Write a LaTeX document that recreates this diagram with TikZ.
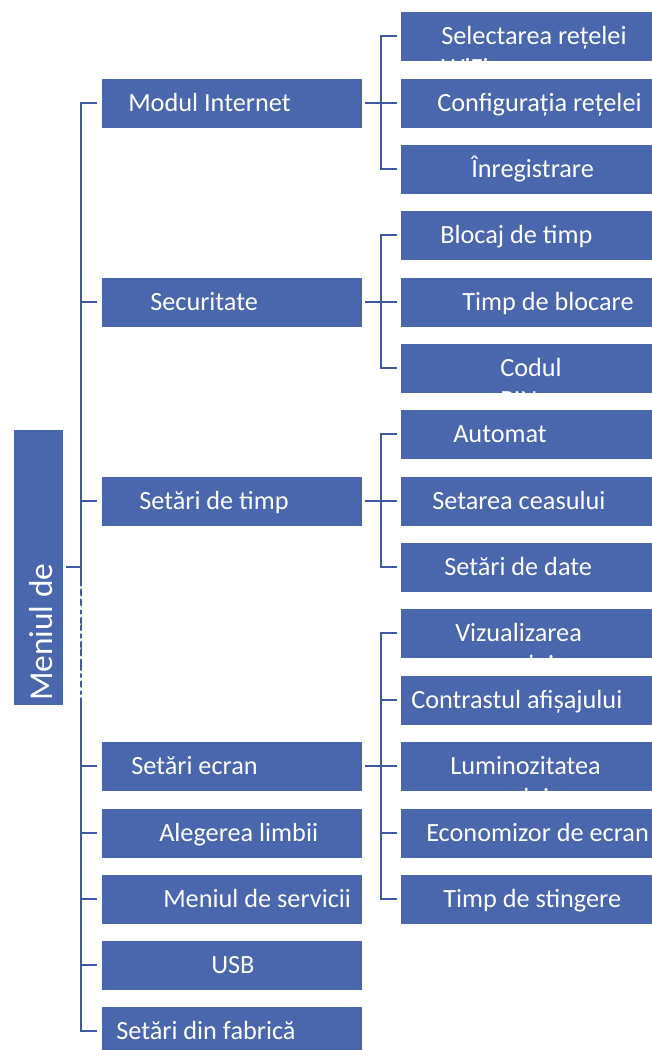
\documentclass[tikz,border=0pt]{standalone}
\usepackage{fontspec}
\setmainfont{Carlito}
\definecolor{boxblue}{RGB}{74,102,172}
\definecolor{lineblue}{RGB}{64,90,160}

\begin{document}
\begin{tikzpicture}[x=0.75pt, y=-0.75pt,
  menubox/.style={rectangle, fill=boxblue, draw=white, line width=0.6pt, inner sep=0pt,
    minimum width=195.75pt, minimum height=37.5pt},
  menutext/.style={text=white, inner sep=0pt, anchor=base west,
    font=\fontsize{19.7}{24}\selectfont},
  link/.style={draw=lineblue, line width=1.9pt}]
\clip (0,0) rectangle (652,1050);

% radacina
\node[menubox, minimum width=37.5pt, minimum height=207pt] (root) at (38,567) {};

% primul nivel
\node[menubox] (mi) at (231.5,103) {};
\node[menubox] (sec) at (231.5,302) {};
\node[menubox] (timp) at (231.5,501) {};
\node[menubox] (ecran) at (231.5,766) {};
\node[menubox] (limba) at (231.5,833) {};
\node[menubox] (serv) at (231.5,899) {};
\node[menubox] (usb) at (231.5,965) {};
\node[menubox] (fabr) at (231.5,1031) {};

% al doilea nivel
\node[menubox] (wifi) at (530.5,36) {};
\node[menubox] (conf) at (530.5,103) {};
\node[menubox] (inreg) at (530.5,169) {};
\node[menubox] (blocaj) at (530.5,235) {};
\node[menubox] (tblocare) at (530.5,302) {};
\node[menubox] (pin) at (530.5,368) {};
\node[menubox] (auto) at (530.5,434) {};
\node[menubox] (ceas) at (530.5,501) {};
\node[menubox] (date) at (530.5,567) {};
\node[menubox] (vizual) at (530.5,633) {};
\node[menubox] (contrast) at (530.5,700) {};
\node[menubox] (lumin) at (530.5,766) {};
\node[menubox] (econ) at (530.5,833) {};
\node[menubox] (sting) at (530.5,899) {};

% trunchiul
\coordinate (trunk) at (81,567);
\draw[link, shorten <=2.25pt] (root.east) -- (trunk);
\draw[link, shorten >=3pt] (trunk) |- (mi.west);
\draw[link, shorten >=3pt] (trunk) |- (sec.west);
\draw[link, shorten >=3pt] (trunk) |- (timp.west);
\draw[link, shorten >=3pt] (trunk) |- (ecran.west);
\draw[link, shorten >=3pt] (trunk) |- (limba.west);
\draw[link, shorten >=3pt] (trunk) |- (serv.west);
\draw[link, shorten >=3pt] (trunk) |- (usb.west);
\draw[link, shorten >=3pt] (trunk) |- (fabr.west);

% ramuri
\coordinate (mi-j) at (381,103);
\draw[link, shorten <=2.25pt] (mi.east) -- (mi-j);
\draw[link, shorten >=2.25pt] (mi-j) |- (wifi.west);
\draw[link, shorten >=2.25pt] (mi-j) |- (conf.west);
\draw[link, shorten >=2.25pt] (mi-j) |- (inreg.west);

\coordinate (sec-j) at (381,302);
\draw[link, shorten <=2.25pt] (sec.east) -- (sec-j);
\draw[link, shorten >=2.25pt] (sec-j) |- (blocaj.west);
\draw[link, shorten >=2.25pt] (sec-j) |- (tblocare.west);
\draw[link, shorten >=2.25pt] (sec-j) |- (pin.west);

\coordinate (timp-j) at (381,501);
\draw[link, shorten <=2.25pt] (timp.east) -- (timp-j);
\draw[link, shorten >=2.25pt] (timp-j) |- (auto.west);
\draw[link, shorten >=2.25pt] (timp-j) |- (ceas.west);
\draw[link, shorten >=2.25pt] (timp-j) |- (date.west);

\coordinate (ecran-j) at (381,766);
\draw[link, shorten <=2.25pt] (ecran.east) -- (ecran-j);
\draw[link, shorten >=2.25pt] (ecran-j) |- (vizual.west);
\draw[link, shorten >=2.25pt] (ecran-j) |- (contrast.west);
\draw[link, shorten >=2.25pt] (ecran-j) |- (lumin.west);
\draw[link, shorten >=2.25pt] (ecran-j) |- (econ.west);
\draw[link, shorten >=2.25pt] (ecran-j) |- (sting.west);

% texte
\node[menutext, rotate=90, font=\fontsize{25}{30.75}\selectfont] (root-t) at (52,701)
  {\begin{tabular}[t]{@{}l@{}}Meniul de\\instalare\end{tabular}};

\node[menutext] (mi-t) at (128,111) {Modul Internet};
\node[menutext] (sec-t) at (150,310) {Securitate};
\node[menutext] (timp-t) at (139,509) {Setări de timp};
\node[menutext] (ecran-t) at (131,774) {Setări ecran};
\node[menutext] (limba-t) at (159,841) {Alegerea limbii};
\node[menutext] (serv-t) at (163,907) {Meniul de servicii};
\node[menutext] (usb-t) at (211,973) {USB};
\node[menutext] (fabr-t) at (116,1039) {Setări din fabrică};

\node[menutext] (wifi-t) at (441,44) {\begin{tabular}[t]{@{}l@{}}Selectarea rețelei\\WiFi\end{tabular}};
\node[menutext] (conf-t) at (437,111) {Configurația rețelei};
\node[menutext] (inreg-t) at (471,177) {Înregistrare};
\node[menutext] (blocaj-t) at (440,243) {Blocaj de timp};
\node[menutext] (tblocare-t) at (462,310) {Timp de blocare};
\node[menutext] (pin-t) at (500,376) {\begin{tabular}[t]{@{}l@{}}Codul\\PIN\end{tabular}};
\node[menutext] (auto-t) at (453,442) {Automat};
\node[menutext] (ceas-t) at (432,509) {Setarea ceasului};
\node[menutext] (date-t) at (444,575) {Setări de date};
\node[menutext] (vizual-t) at (455,641) {\begin{tabular}[t]{@{}l@{}}Vizualizarea\\ecranului\end{tabular}};
\node[menutext] (contrast-t) at (411,708) {Contrastul afișajului};
\node[menutext] (lumin-t) at (450,774) {\begin{tabular}[t]{@{}l@{}}Luminozitatea\\ecranului\end{tabular}};
\node[menutext] (econ-t) at (426,841) {Economizor de ecran};
\node[menutext] (sting-t) at (443,907) {Timp de stingere};
\end{tikzpicture}
\end{document}
